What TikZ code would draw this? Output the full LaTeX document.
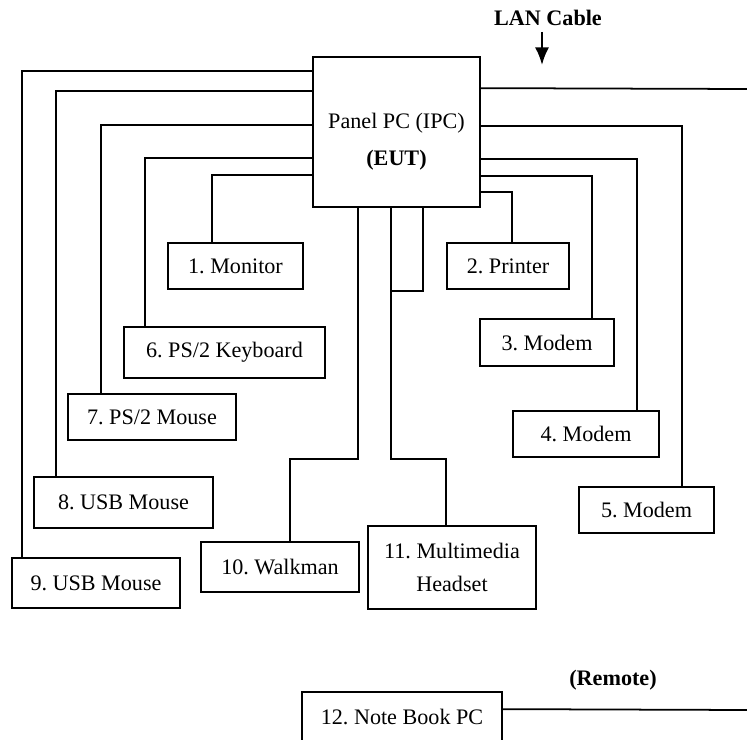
\documentclass[tikz,border=0pt]{standalone}
\usepackage{fontspec}
\setmainfont{Liberation Serif}
\usetikzlibrary{calc,arrows.meta}
\frenchspacing

\begin{document}
\begin{tikzpicture}[
    x=0.02cm, y=-0.02cm,
    every node/.style={font=\fontsize{12.6}{15}\selectfont, align=center},
    unit/.style={draw, line width=1pt, inner sep=0pt, minimum height=0.92cm},
    cable/.style={line width=1pt},
    caption/.style={font=\fontsize{12.6}{15}\selectfont\bfseries}
]
\useasboundingbox (0,0) rectangle (747,740);

% equipment under test
\node[unit, minimum width=3.34cm, minimum height=3cm] (eut) at (396.5,132)
    {\rule{0pt}{20pt}Panel PC (IPC)\\[6pt]\textbf{(EUT)}};

% peripherals
\node[unit, minimum width=2.7cm] (monitor) at (235.5,266) {1. Monitor};
\node[unit, minimum width=2.44cm] (printer) at (508,266) {2. Printer};
\node[unit, minimum width=2.68cm, minimum height=0.94cm] (modemA) at (547,342.5) {3. Modem};
\node[unit, minimum width=2.92cm] (modemB) at (586,434) {4. Modem};
\node[unit, minimum width=2.7cm] (modemC) at (646.5,510) {5. Modem};
\node[unit, minimum width=4.02cm, minimum height=1.02cm] (keyboard) at (224.5,352.5) {6. PS/2 Keyboard};
\node[unit, minimum width=3.36cm] (psmouse) at (152,417) {7. PS/2 Mouse};
\node[unit, minimum width=3.58cm, minimum height=1.02cm] (usbA) at (123.5,502.5) {8. USB Mouse};
\node[unit, minimum width=3.36cm, minimum height=1cm] (usbB) at (96,583) {9. USB Mouse};
\node[unit, minimum width=3.16cm, minimum height=1cm] (walkman) at (280,567) {10. Walkman};
\node[unit, minimum width=3.36cm, minimum height=1.66cm] (headset) at (452,567.5)
    {11. Multimedia\\[3.7pt]Headset};
\node[unit, minimum width=4cm, minimum height=1cm] (notebook) at (402,717) {12. Note Book PC};

% captions
\node[caption] (lan) at (548,18) {LAN Cable};
\node[caption] (remote) at (613,680) {(Remote)};
\coordinate (lanhead) at (542,65);
\coordinate (lanend) at (747,89);
\coordinate (remend) at (747,710);
\draw[line width=1.3pt, -{Latex[length=10pt,width=8pt]}] (lan.south -| lanhead) -- (lanhead);

% left cables
\draw[cable] ($(eut.north west)+(0,15)$) -| ($(usbB.north west)+(11,0)$);
\draw[cable] ($(eut.north west)+(0,35)$) -| ($(usbA.north west)+(23,0)$);
\draw[cable] ($(eut.north west)+(0,69)$) -| ($(psmouse.north west)+(34,0)$);
\draw[cable] ($(eut.north west)+(0,102)$) -| ($(keyboard.north west)+(22,0)$);
\draw[cable] ($(eut.north west)+(0,119)$) -| ($(monitor.north west)+(45,0)$);

% right cables
\draw[cable] ($(eut.north east)+(0,32)$) -- (lanend);
\draw[cable] ($(eut.north east)+(0,70)$) -| ($(modemC.north east)+(-33,0)$);
\draw[cable] ($(eut.north east)+(0,103)$) -| ($(modemB.north east)+(-23,0)$);
\draw[cable] ($(eut.north east)+(0,120)$) -| ($(modemA.north east)+(-23,0)$);
\draw[cable] ($(eut.north east)+(0,136)$) -| ($(printer.north west)+(66,0)$);

% bottom cables
\draw[cable] ($(eut.south west)+(46,0)$) -- ++(0,251) -| ($(walkman.north west)+(90,0)$);
\draw[cable] ($(eut.south west)+(79,0)$) -- ++(0,251) -| ($(headset.north west)+(79,0)$);
\draw[cable] ($(eut.south west)+(111,0)$) -- ++(0,83) -- ++(-32,0);

% remote link
\draw[cable] ($(notebook.north east)+(0,18)$) -- (remend);
\end{tikzpicture}
\end{document}
